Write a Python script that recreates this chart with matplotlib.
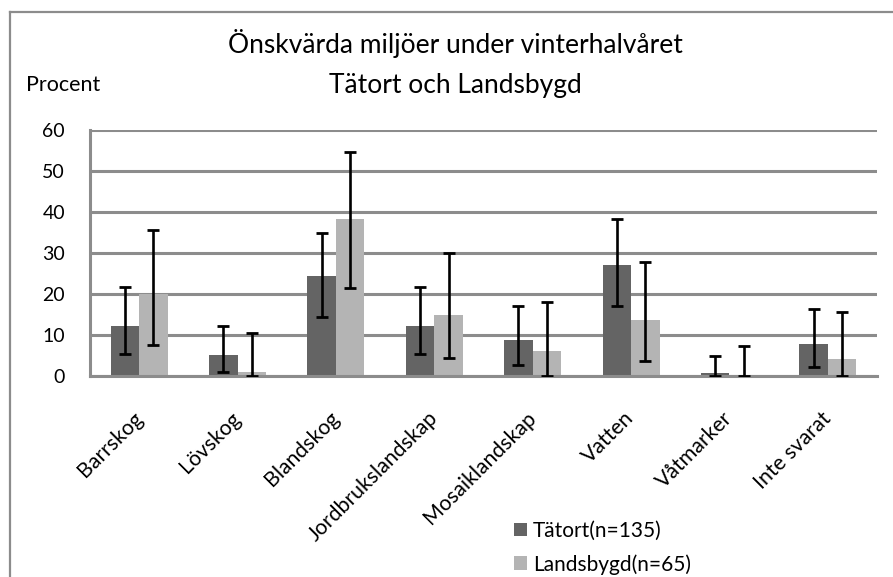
import numpy as np
import matplotlib.pyplot as plt
import matplotlib.transforms as mtransforms
from matplotlib.lines import Line2D

plt.rcParams['font.family'] = ['Lato', 'DejaVu Sans']

# data
categories = ["Barrskog", "Lövskog", "Blandskog", "Jordbrukslandskap",
              "Mosaiklandskap", "Vatten", "Våtmarker", "Inte svarat"]
tatort = [12.3, 5.1, 24.4, 12.3, 8.8, 27.1, 0.7, 7.8]
tatort_lo = [5.4, 0.9, 14.3, 5.4, 2.7, 17.1, 0.0, 2.3]
tatort_hi = [21.6, 12.2, 35.0, 21.6, 17.1, 38.2, 4.9, 16.3]
lands = [20.0, 1.0, 38.3, 15.0, 6.1, 13.7, 0.0, 4.2]
lands_lo = [7.6, 0.0, 21.5, 4.5, 0.0, 3.7, 0.0, 0.0]
lands_hi = [35.6, 10.4, 54.7, 30.1, 18.0, 27.9, 7.3, 15.7]
series_names = ["Tätort(n=135)", "Landsbygd(n=65)"]
yticks = [0, 10, 20, 30, 40, 50, 60]

W, H = 893, 577
fig = plt.figure(figsize=(W / 100, H / 100), dpi=100)
ax = fig.add_axes([90 / W, 1 - 376 / H, 787 / W, 246 / H])

x = np.arange(len(categories))
bw = 0.29
c_dark = "#646464"
c_light = "#b4b4b4"
grid_c = "#8c8c8c"

def errs(vals, lo, hi):
    v = np.array(vals)
    return [v - np.array(lo), np.array(hi) - v]

ax.bar(x - bw / 2, tatort, bw, color=c_dark, label=series_names[0], zorder=2)
ax.bar(x + bw / 2, lands, bw, color=c_light, label=series_names[1], zorder=2)
ekw = dict(fmt="none", ecolor="black", elinewidth=1.9, capsize=4.5, capthick=2.0, zorder=3)
ax.errorbar(x - bw / 2, tatort, yerr=errs(tatort, tatort_lo, tatort_hi), **ekw)
ax.errorbar(x + bw / 2, lands, yerr=errs(lands, lands_lo, lands_hi), **ekw)

ax.set_xlim(-0.5, len(categories) - 0.5)
ax.set_ylim(0, 60)
ax.set_yticks(yticks)
ax.yaxis.grid(True, color=grid_c, lw=2.2, zorder=0)
ax.set_axisbelow(True)
for s in ["top", "right"]:
    ax.spines[s].set_visible(False)
for s in ["left", "bottom"]:
    ax.spines[s].set_color(grid_c)
    ax.spines[s].set_linewidth(2.2)
ax.tick_params(axis="both", length=0, colors="black")
ax.tick_params(axis="y", pad=18, labelsize=14)
ax.set_xticks(x)
ax.set_xticklabels(categories, rotation=45, ha="right", va="top",
                   rotation_mode="anchor", fontsize=15.3)
ax.tick_params(axis="x", pad=23)
# nudge the slanted labels a little to the left, like Excel places them
shift = mtransforms.ScaledTranslation(-7 / 100, 0, fig.dpi_scale_trans)
for lab in ax.get_xticklabels():
    lab.set_transform(lab.get_transform() + shift)

fig.text(455 / W, 1 - 44 / H, "Önskvärda miljöer under vinterhalvåret",
         ha="center", va="center", fontsize=19)
fig.text(455 / W, 1 - 85 / H, "Tätort och Landsbygd",
         ha="center", va="center", fontsize=19)
fig.text(26 / W, 1 - 85 / H, "Procent", ha="left", va="center", fontsize=15.5)

fig.legend(loc="upper left", bbox_to_anchor=(514 / W, 1 - 521 / H),
           frameon=False, fontsize=15, handlelength=0.63, handleheight=0.63,
           handletextpad=0.29, labelspacing=0.62, borderpad=0, borderaxespad=0)

# outer chart border (left and top visible)
fig.add_artist(Line2D([10 / W, 10 / W], [0, 1 - 12 / H], color=grid_c, lw=1.6))
fig.add_artist(Line2D([10 / W, 1], [1 - 12 / H, 1 - 12 / H], color=grid_c, lw=1.6))

fig.savefig("out.png", dpi=100)
